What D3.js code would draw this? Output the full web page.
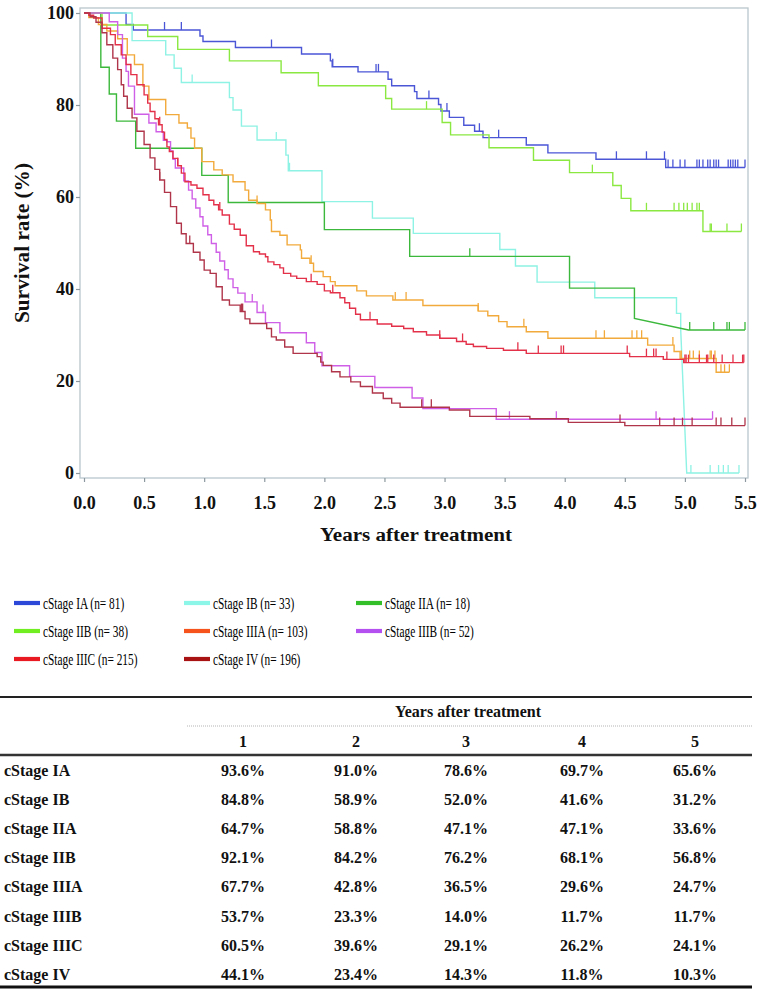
<!DOCTYPE html>
<html lang="en">
<head>
<meta charset="utf-8">
<title>Survival by cStage</title>
<script src="https://cdn.jsdelivr.net/npm/d3@7"></script>
<style>
  body { margin: 0; background: #fff; }
  text { font-family: "Liberation Serif", "Times New Roman", serif; }
</style>
</head>
<body>
<svg id="chart" width="767" height="990"></svg>

<script>
// ---------------- data ----------------
var stages = ["cStage IA", "cStage IB", "cStage IIA", "cStage IIB",
              "cStage IIIA", "cStage IIIB", "cStage IIIC", "cStage IV"];
var counts = [81, 33, 18, 38, 103, 52, 215, 196];
var lineColors = ["#4b56d6", "#8ef2e4", "#3cb83c", "#8ae840",
                  "#f2aa3c", "#cf5fe6", "#e4314a", "#b0354a"];
var legendColors = ["#2c48d8", "#8cf7e8", "#32bf28", "#70ee22",
                    "#f6521c", "#b450f0", "#ea1a22", "#a81212"];

var yearTicks = [0, 0.5, 1, 1.5, 2, 2.5, 3, 3.5, 4, 4.5, 5, 5.5];
var survTicks = [0, 20, 40, 60, 80, 100];

// [years, survival %]; a third value 1 means the segment is drawn straight, not stepped
var curveIA = [[0,100],[0.35,97.5],[0.41,96.3],[0.965,95.0],[0.99,93.8],[1.26,92.5],[1.81,91.1],
  [2.05,89.6],[2.065,88.3],[2.28,87.2],[2.53,85.6],[2.56,84.2],[2.75,82.9],[2.77,81.4],[2.95,80.1],
  [2.97,78.7],[3.04,77.3],[3.16,75.6],[3.25,74.3],[3.32,72.9],[3.68,71.3],[3.86,69.6],[4.26,68.2],
  [4.84,66.4]];
var censorIA = [0.67,0.81,1.56,2.07,2.43,2.45,2.87,3.02,3.29,3.45,4.43,4.68,4.83,4.86,4.90,4.96,5.0,
  5.10,5.12,5.15,5.19,5.21,5.24,5.26,5.28,5.36,5.38,5.40,5.42,5.44,5.50];

var curveIB = [[0,100],[0.40,94.0],[0.68,90.9],[0.75,88.0],[0.81,84.9],[1.21,81.6],[1.24,78.9],
  [1.31,75.4],[1.44,72.4],[1.68,69.1],[1.70,65.7],[1.98,59.0],[2.40,55.4],[2.74,52.1],[3.46,48.6],
  [3.59,45.0],[3.77,41.5],[4.25,38.1],[4.93,34.7],[4.965,31.2],[5.015,0,1]];
var censorIB = [0.90,1.60,1.71,5.05,5.21,5.28,5.32,5.36,5.45];

var curveIIA = [[0,100],[0.14,88.2],[0.21,82.4],[0.27,76.5],[0.43,70.6],[0.98,64.7],[1.20,58.8],
  [2.00,52.9],[2.71,47.1],[4.04,40.2],[4.58,33.6],[5.03,31.1,1]];
var censorIIA = [3.21,5.04,5.24,5.35,5.37,5.50];

var curveIIB = [[0,100],[0.15,97.4],[0.53,94.9],[0.78,92.1],[1.21,89.6],[1.64,87.0],[1.95,84.2],
  [2.51,81.4],[2.56,79.1],[2.98,76.2],[3.05,73.5],[3.37,70.7],[3.74,68.0],[4.04,65.3],[4.40,62.5],
  [4.47,59.7],[4.55,57.0],[5.15,52.5]];
var censorIIB = [2.85,4.23,4.68,4.91,4.95,4.99,5.02,5.06,5.10,5.12,5.21,5.22,5.35,5.47];

var curveIIIA = [[0,100],[0.04,99.0],[0.12,97.5],[0.19,96.1],[0.28,94.4],[0.36,90.9],[0.42,88.8],
  [0.49,84.1],[0.54,81.2],[0.68,77.9],[0.79,76.1],[0.86,75.0],[0.89,72.8],[0.92,70.6],[0.98,67.7],
  [1.08,65.9],[1.15,64.8],[1.24,63.3],[1.34,61.5],[1.37,59.3],[1.44,58.6],[1.51,57.2],[1.55,55.0],
  [1.56,52.5],[1.63,51.7],[1.69,49.6],[1.80,48.5],[1.81,46.7],[1.88,45.6],[1.91,43.8],[1.99,42.7],
  [2.05,41.6],[2.09,40.7],[2.27,39.6],[2.35,38.5],[2.57,37.6],[2.82,36.4],[3.28,35.2],[3.36,34.2],
  [3.45,32.9],[3.52,31.8],[3.68,30.7],[3.86,29.3],[4.69,27.8],[4.91,26.4],[4.96,24.9],[5.26,21.9]];
var censorIIIA = [1.44,1.89,2.59,2.68,3.28,3.66,4.26,4.33,4.56,4.60,4.64,4.90,4.97,5.04,5.07,5.12,
  5.21,5.22,5.25,5.30,5.33,5.37];

var curveIIIB = [[0,100],[0.21,98.1],[0.28,95.3],[0.32,90.2],[0.35,87.3],[0.37,84.1],[0.42,78.0],
  [0.54,76.1],[0.60,74.2],[0.66,72.3],[0.69,72.0],[0.72,70.0],[0.74,68.2],[0.76,66.3],[0.83,63.5],
  [0.87,61.5],[0.90,59.6],[0.93,57.6],[0.965,55.7],[0.99,53.7],[1.03,51.8],[1.06,49.9],[1.10,48.0],
  [1.13,46.1],[1.17,44.2],[1.20,42.2],[1.24,40.3],[1.28,39.1],[1.34,37.2],[1.44,34.9],[1.51,32.7],
  [1.63,30.5],[1.85,28.3],[1.92,26.2],[1.98,23.3],[2.21,21.0],[2.42,18.6],[2.73,16.3],[2.82,14.0],
  [3.43,11.7]];
var censorIIIB = [1.40,1.49,3.54,3.93,4.76,5.23];

var curveIIIC = [[0,100],[0.04,99.5],[0.08,98.9],[0.15,96.7],[0.22,95.3],[0.26,93.1],[0.31,90.9],
  [0.35,88.8],[0.39,86.6],[0.44,84.4],[0.50,82.2],[0.53,80.4],[0.55,78.6],[0.59,77.0],[0.62,75.7],
  [0.65,74.1],[0.67,72.5],[0.69,70.9],[0.71,69.9],[0.74,68.4],[0.78,66.8],[0.81,65.2],[0.84,63.3],
  [0.89,62.6],[0.94,61.9],[0.99,60.5],[1.04,59.3],[1.08,58.3],[1.12,57.2],[1.15,56.1],[1.21,54.1],
  [1.25,53.0],[1.30,51.7],[1.35,49.4],[1.41,48.1],[1.46,47.6],[1.51,47.0],[1.53,45.9],[1.58,45.3],
  [1.63,44.6],[1.66,43.4],[1.72,42.8],[1.77,42.3],[1.85,41.6],[1.94,41.0],[2.00,39.6],[2.05,39.2],
  [2.13,38.1],[2.17,37.0],[2.21,35.8],[2.26,34.5],[2.30,33.3],[2.44,32.4],[2.56,31.9],[2.66,31.4],
  [2.74,30.7],[2.85,30.0],[2.96,29.3],[3.10,28.6],[3.18,28.0],[3.24,27.5],[3.35,27.1],[3.49,26.7],
  [3.68,26.0],[4.54,25.3],[4.82,24.7],[4.99,24.0]];
var censorIIIC = [0.63,0.78,1.13,1.89,2.07,2.38,2.96,3.15,3.61,3.78,3.97,3.99,4.52,4.68,4.74,4.76,
  4.85,5.00,5.01,5.03,5.12,5.18,5.19,5.24,5.31,5.40,5.48,5.49];

var curveIV = [[0,100],[0.05,99.2],[0.10,98.0],[0.15,95.7],[0.19,93.1],[0.24,90.2],[0.28,87.7],
  [0.31,84.4],[0.33,81.9],[0.36,79.3],[0.40,77.2],[0.44,74.3],[0.50,71.4],[0.55,68.5],[0.59,66.0],
  [0.63,63.7],[0.67,61.0],[0.72,57.9],[0.77,54.3],[0.81,52.0],[0.85,49.9],[0.91,48.0],[0.965,46.3],
  [1.00,44.1],[1.05,43.4],[1.10,40.5],[1.15,37.6],[1.21,36.5],[1.30,35.1],[1.34,33.5],[1.38,32.5],
  [1.52,31.4],[1.56,29.6],[1.60,28.9],[1.67,27.4],[1.74,26.0],[1.94,25.3],[1.97,24.1],[1.99,23.4],
  [2.06,22.0],[2.13,20.9],[2.22,19.8],[2.30,18.8],[2.40,17.4],[2.49,16.2],[2.56,15.2],[2.63,14.3],
  [3.04,13.7],[3.21,12.3],[3.71,11.8],[4.03,11.0],[4.50,10.3]];
var censorIV = [0.63,0.88,1.31,1.32,2.81,2.89,4.46,4.79,4.91,4.98,5.06,5.26,5.30,5.39,5.50];

var lastFollowUp = [5.5, 5.45, 5.5, 5.47, 5.37, 5.23, 5.49, 5.5];

// table: survival rate at 1..5 years
var tableYears = [1, 2, 3, 4, 5];
var rateIA   = [93.6, 91.0, 78.6, 69.7, 65.6];
var rateIB   = [84.8, 58.9, 52.0, 41.6, 31.2];
var rateIIA  = [64.7, 58.8, 47.1, 47.1, 33.6];
var rateIIB  = [92.1, 84.2, 76.2, 68.1, 56.8];
var rateIIIA = [67.7, 42.8, 36.5, 29.6, 24.7];
var rateIIIB = [53.7, 23.3, 14.0, 11.7, 11.7];
var rateIIIC = [60.5, 39.6, 29.1, 26.2, 24.1];
var rateIV   = [44.1, 23.4, 14.3, 11.8, 10.3];

var curves  = [curveIA, curveIB, curveIIA, curveIIB, curveIIIA, curveIIIB, curveIIIC, curveIV];
var censors = [censorIA, censorIB, censorIIA, censorIIB, censorIIIA, censorIIIB, censorIIIC, censorIV];
var rates   = [rateIA, rateIB, rateIIA, rateIIB, rateIIIA, rateIIIB, rateIIIC, rateIV];

// ---------------- chart ----------------
var svg = d3.select("#chart");
var serif = "'Liberation Serif', 'Times New Roman', serif";

var x = d3.scaleLinear().domain([0, 5.5]).range([84, 745]);
var y = d3.scaleLinear().domain([0, 100]).range([473, 13]);

// frame
svg.append("rect")
    .attr("x", 80).attr("y", 8)
    .attr("width", 668).attr("height", 470)
    .attr("fill", "none")
    .attr("stroke", "#b9c6cc")
    .attr("stroke-width", 1.3);

function styleAxis(g) {
    g.select(".domain").remove();
    g.selectAll(".tick line").attr("stroke", "#8d999f").attr("stroke-width", 1.2);
    g.selectAll(".tick text")
        .attr("fill", "#111")
        .style("font-family", serif)
        .style("font-size", "18px")
        .style("font-weight", "bold");
}

svg.append("g")
    .attr("transform", "translate(80,0)")
    .call(d3.axisLeft(y).tickValues(survTicks).tickSize(4).tickPadding(2).tickFormat(d3.format("d")))
    .call(styleAxis);

svg.append("g")
    .attr("transform", "translate(0,478)")
    .call(d3.axisBottom(x).tickValues(yearTicks).tickSize(4).tickPadding(14).tickFormat(d3.format(".1f")))
    .call(styleAxis);

// axis titles
svg.append("text")
    .attr("x", 416).attr("y", 541)
    .attr("text-anchor", "middle")
    .attr("textLength", 192)
    .attr("lengthAdjust", "spacingAndGlyphs")
    .style("font-size", "18px")
    .style("font-weight", "bold")
    .attr("fill", "#111")
    .text("Years after treatment");

svg.append("text")
    .attr("transform", "translate(29,243) rotate(-90)")
    .attr("text-anchor", "middle")
    .attr("textLength", 160)
    .attr("lengthAdjust", "spacingAndGlyphs")
    .style("font-size", "20px")
    .style("font-weight", "bold")
    .attr("fill", "#111")
    .text("Survival rate (%)");

// turn K-M points into path vertices
function stepVertices(pts, end) {
    var v = [[pts[0][0], pts[0][1]]];
    for (var i = 1; i < pts.length; i++) {
        if (!pts[i][2]) v.push([pts[i][0], pts[i - 1][1]]);
        v.push([pts[i][0], pts[i][1]]);
    }
    var last = pts[pts.length - 1];
    if (end > last[0]) v.push([end, last[1]]);
    return v;
}

function survAt(pts, t) {
    var s = pts[0][1];
    for (var i = 0; i < pts.length; i++) {
        if (pts[i][0] <= t) s = pts[i][1];
    }
    return s;
}

var line = d3.line()
    .x(function (d) { return x(d[0]); })
    .y(function (d) { return y(d[1]); });

var plot = svg.append("g");
curves.forEach(function (pts, k) {
    var g = plot.append("g").attr("stroke", lineColors[k]).attr("fill", "none");
    g.append("path")
        .attr("d", line(stepVertices(pts, lastFollowUp[k])))
        .attr("stroke-width", 1.4);
    g.selectAll("line")
        .data(censors[k])
        .enter()
        .append("line")
        .attr("x1", function (d) { return x(d); })
        .attr("x2", function (d) { return x(d); })
        .attr("y1", function (d) { return y(survAt(pts, d)); })
        .attr("y2", function (d) { return y(survAt(pts, d)) - 8; })
        .attr("stroke-width", 1.3);
});

// ---------------- legend ----------------
var legCols = [14, 184, 356];
var legRows = [603, 631, 659];
var legend = svg.append("g");
stages.forEach(function (s, k) {
    var lx = legCols[k % 3], ly = legRows[Math.floor(k / 3)];
    legend.append("line")
        .attr("x1", lx).attr("x2", lx + 26)
        .attr("y1", ly).attr("y2", ly)
        .attr("stroke", legendColors[k])
        .attr("stroke-width", 4.2);
    legend.append("text")
        .attr("transform", "translate(" + (lx + 29) + "," + (ly + 5.5) + ") scale(0.69,1)")
        .style("font-size", "16.5px")
        .attr("fill", "#000")
        .text(s + " (n= " + counts[k] + ")");
});

// ---------------- table ----------------
var colX = [243, 356, 466, 582, 695];
var rowY0 = 776, rowStep = 29.1;
var table = svg.append("g")
    .style("font-size", "16px")
    .style("font-weight", "bold")
    .attr("fill", "#111");

table.append("line").attr("x1", 0).attr("x2", 752).attr("y1", 697).attr("y2", 697)
    .attr("stroke", "#222").attr("stroke-width", 2);
table.append("line").attr("x1", 187).attr("x2", 752).attr("y1", 726).attr("y2", 726)
    .attr("stroke", "#b5b5b5").attr("stroke-width", 1).attr("stroke-dasharray", "1,1");
table.append("line").attr("x1", 0).attr("x2", 752).attr("y1", 755).attr("y2", 755)
    .attr("stroke", "#333").attr("stroke-width", 2.4);
table.append("line").attr("x1", 0).attr("x2", 752).attr("y1", 987).attr("y2", 987)
    .attr("stroke", "#111").attr("stroke-width", 3.2);

table.append("text")
    .attr("x", 468).attr("y", 716.5)
    .attr("text-anchor", "middle")
    .text("Years after treatment");

table.selectAll("text.yr")
    .data(tableYears)
    .enter().append("text")
    .attr("class", "yr")
    .attr("x", function (d, i) { return colX[i]; })
    .attr("y", 746.5)
    .attr("text-anchor", "middle")
    .text(function (d) { return d; });

stages.forEach(function (s, r) {
    var ry = rowY0 + r * rowStep;
    table.append("text").attr("x", 4).attr("y", ry).text(s);
    rates[r].forEach(function (v, c) {
        table.append("text")
            .attr("x", colX[c]).attr("y", ry)
            .attr("text-anchor", "middle")
            .text(v.toFixed(1) + "%");
    });
});
</script>
</body>
</html>
